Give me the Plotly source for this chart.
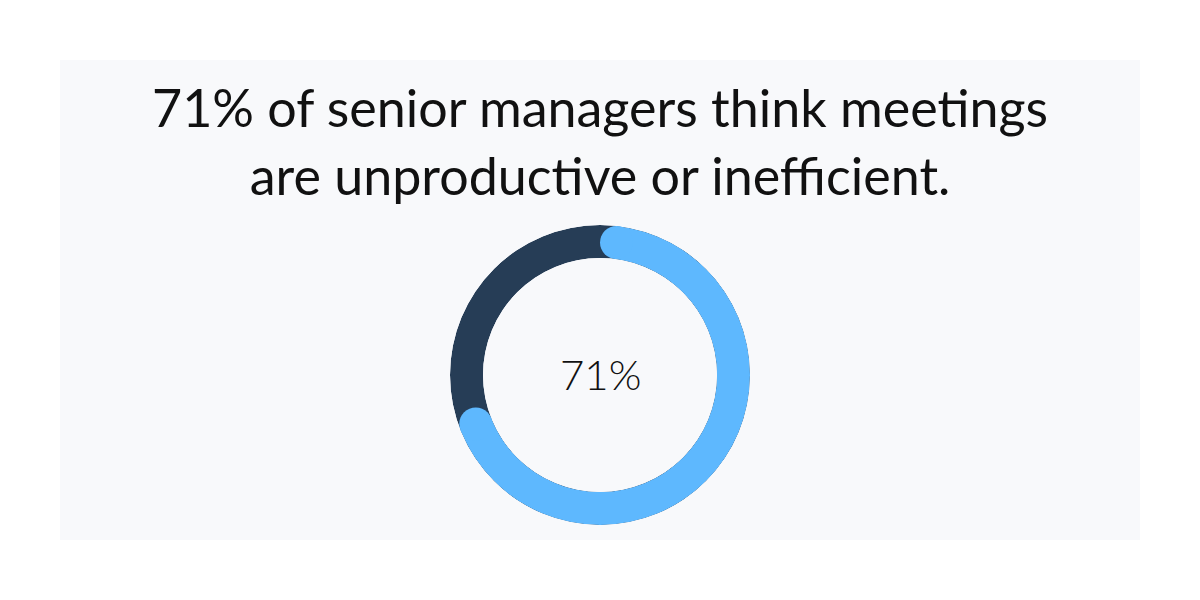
import math
import plotly.graph_objects as go

# ---- data ----
title_lines = ["71% of senior managers think meetings", "are unproductive or inefficient."]
share_pct = 71
categories = ["Unproductive / inefficient", "Other"]
values = [share_pct, 100 - share_pct]
center_label = f"{share_pct}%"

# ---- style ----
BLUE = "#5eb8fe"
DARK = "#263d56"
PANEL = "#f8f9fb"
OFF = 8                      # page body margin of the browser
W, H = 1200 - OFF, 600 - OFF
M = 60 - OFF
outer_px = 150
inner_px = 117
cx_px, cy_px = 600 - OFF, 375 - OFF

thick_px = outer_px - inner_px
mid_px = (outer_px + inner_px) / 2
cap_deg = math.degrees(math.asin((thick_px / 2) / mid_px))

plot_w, plot_h = 1080, 480
dom_x = [(cx_px - M - outer_px) / plot_w, (cx_px - M + outer_px) / plot_w]
dom_y = [1 - (cy_px - M + outer_px) / plot_h, 1 - (cy_px - M - outer_px) / plot_h]

total = sum(values)
arc_end = values[0] / total * 360
start_deg = cap_deg
end_deg = arc_end - cap_deg

fig = go.Figure()
fig.add_trace(go.Barpolar(
    r=[1], theta=[180], width=[360], base=0,
    marker=dict(color=DARK, line=dict(width=0)),
    name=categories[1], hoverinfo="skip", showlegend=False,
))
fig.add_trace(go.Barpolar(
    r=[1], theta=[(start_deg + end_deg) / 2], width=[end_deg - start_deg], base=0,
    marker=dict(color=BLUE, line=dict(width=0)),
    name=categories[0], hoverinfo="skip", showlegend=False,
))
fig.add_trace(go.Scatterpolar(
    r=[0.5, 0.5], theta=[start_deg, end_deg], mode="markers",
    marker=dict(color=BLUE, size=thick_px, line=dict(width=0)),
    hoverinfo="skip", showlegend=False,
))

fig.update_layout(
    width=W, height=H,
    margin=dict(l=M, r=W - M - plot_w, t=M, b=H - M - plot_h),
    paper_bgcolor="white",
    plot_bgcolor=PANEL,
    polar=dict(
        domain=dict(x=dom_x, y=dom_y),
        hole=inner_px / outer_px,
        bgcolor="rgba(0,0,0,0)",
        radialaxis=dict(visible=False, range=[0, 1]),
        angularaxis=dict(visible=False, rotation=90, direction="clockwise"),
    ),
    shapes=[dict(type="rect", xref="paper", yref="paper", x0=0, x1=1, y0=0, y1=1,
                 fillcolor=PANEL, line=dict(width=0), layer="below")],
    annotations=[
        dict(text="<br>".join(title_lines), xref="paper", yref="paper",
             x=0.5, y=1 - (74 - OFF - M) / plot_h, xanchor="center", yanchor="top",
             showarrow=False, font=dict(family="Lato", size=52, color="#111111")),
        dict(text=center_label, xref="paper", yref="paper",
             x=(cx_px - M) / plot_w, y=1 - (cy_px - 1 - M) / plot_h,
             xanchor="center", yanchor="middle", showarrow=False,
             font=dict(family="Lato", size=42, color="#111111", weight=300)),
    ],
)
fig.update_xaxes(visible=False)
fig.update_yaxes(visible=False)

fig.write_html("out.html")
